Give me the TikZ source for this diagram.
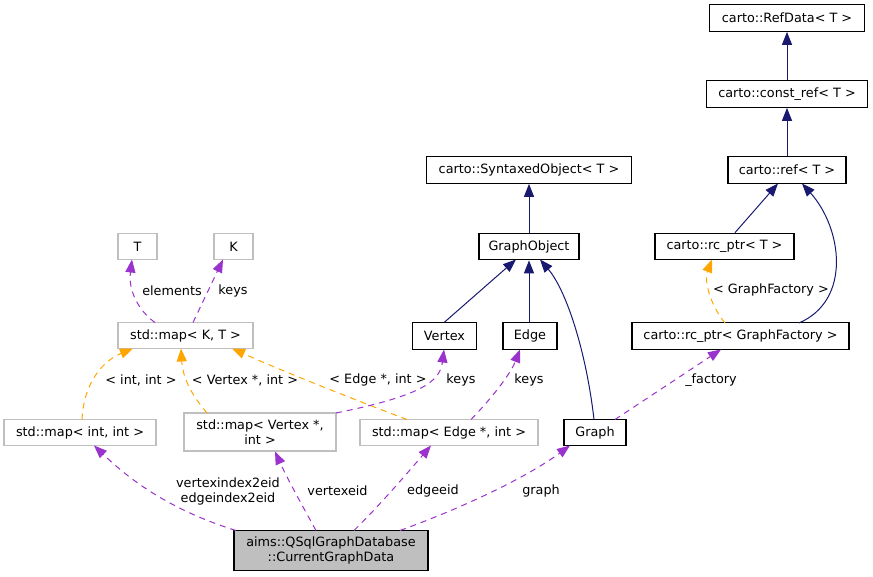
\documentclass[tikz,border=0pt]{standalone}
\usepackage{fontspec}
\setmainfont{DejaVu Sans}
\usetikzlibrary{arrows.meta}
\definecolor{navyc}{HTML}{191970}
\definecolor{orangec}{HTML}{FFA500}
\definecolor{purplec}{HTML}{9A32CD}
\definecolor{grayb}{HTML}{BFBFBF}
\begin{document}
\begin{tikzpicture}[x=1pt,y=-1pt,
  font=\fontsize{12.8}{15}\selectfont,
  box/.style={draw=black,line width=1.2pt,fill=white,minimum height=26.5pt,inner sep=0pt,align=center},
  gbox/.style={draw=grayb,line width=1.2pt,fill=white,minimum height=26.5pt,inner sep=0pt,align=center},
  inh/.style={draw=navyc,line width=1pt,-{Triangle[length=13pt,width=10pt]}},
  tmpl/.style={draw=orangec,line width=1pt,dash pattern=on 6pt off 5pt,-{Triangle[length=13pt,width=10pt]}},
  use/.style={draw=purplec,line width=1pt,dash pattern=on 6pt off 5pt,-{Triangle[length=13pt,width=10pt]}},
  lbl/.style={inner sep=0pt,align=center}]
\useasboundingbox (0,0) rectangle (873,577);
% nodes
\node[box,minimum width=155pt] (refdata) at (787,18) {carto::RefData< T >};
\node[box,minimum width=161pt] (constref) at (787,94) {carto::const\_ref< T >};
\node[box,minimum width=118pt] (ref) at (787,170) {carto::ref< T >};
\node[box,minimum width=205pt] (syntaxed) at (529,170) {carto::SyntaxedObject< T >};
\node[box,minimum width=100pt] (graphobject) at (529,246.5) {GraphObject};
\node[box,minimum width=139pt] (rcptrT) at (724.5,246.5) {carto::rc\_ptr< T >};
\node[gbox,minimum width=39pt] (T) at (137.5,246.5) {T};
\node[gbox,minimum width=39pt] (K) at (233.5,246.5) {K};
\node[gbox,minimum width=135pt] (mapKT) at (185.5,335.5) {std::map< K, T >};
\node[box,minimum width=64pt] (vertex) at (444.5,336) {Vertex};
\node[box,minimum width=54pt] (edge) at (530,336) {Edge};
\node[box,minimum width=217pt] (rcptrGF) at (740.5,336) {carto::rc\_ptr< GraphFactory >};
\node[gbox,minimum width=152pt] (mapint) at (80,432.5) {std::map< int, int >};
\node[gbox,minimum width=152pt,minimum height=38pt] (mapvertex) at (260,432) {std::map< Vertex *,\\int >};
\node[gbox,minimum width=178pt] (mapedge) at (449,432.5) {std::map< Edge *, int >};
\node[box,minimum width=62pt] (graph) at (595,432.5) {Graph};
\node[box,fill=grayb,minimum width=194pt,minimum height=40pt] (aims) at (331,550.5) {aims::QSqlGraphDatabase\\::CurrentGraphData};
% inheritance
\draw[inh] (constref.north) -- (refdata.south);
\draw[inh] (ref.north) -- (constref.south);
\draw[inh] (rcptrT.north -| 735,0) -- (778,183.5);
\draw[inh] (graphobject.north) -- (syntaxed.south);
\draw[inh] (799,323) .. controls (852,300) and (842,228) .. (802,183.5);
\draw[inh] (vertex.north) -- (516,259.5);
\draw[inh] (edge.north -| graphobject.south) -- (graphobject.south);
\draw[inh] (594,419.5) .. controls (586,350) and (566,290) .. (540,259.5);
% template instances
\draw[tmpl] (725,323) .. controls (710,305) and (704,280) .. (712,259.5);
\draw[tmpl] (82,419.5) .. controls (84,380) and (105,360) .. (133,348.5);
\draw[tmpl] (207,413) .. controls (196,400) and (183,382) .. (181,348.5);
\draw[tmpl] (407,419.5) .. controls (350,398) and (280,370) .. (232,348.5);
% usage
\draw[use] (155,322.5) .. controls (140,312) and (128,292) .. (132,259.5);
\draw[use] (193,322.5) -- (223,259.5);
\draw[use] (336,413) .. controls (420,396) and (440,382) .. (444,349.5);
\draw[use] (471,419.5) .. controls (490,400) and (510,375) .. (520,349.5);
\draw[use] (615,419.5) -- (721,349.5);
\draw[use] (236,530.5) .. controls (170,510) and (130,480) .. (94,445.5);
\draw[use] (316,530.5) .. controls (302,505) and (288,480) .. (275,451.5);
\draw[use] (354,530.5) .. controls (380,505) and (410,470) .. (431,445.5);
\draw[use] (400,530.5) .. controls (470,505) and (530,475) .. (570,445.5);
% labels
\node[lbl] (lelements) at (172,291) {elements};
\node[lbl] (lkeysK) at (233,291) {keys};
\node[lbl] (lintint) at (141,380) {< int, int >};
\node[lbl] (lvertexint) at (245,380) {< Vertex *, int >};
\node[lbl] (ledgeint) at (378,380) {< Edge *, int >};
\node[lbl] (lkeysV) at (461,380) {keys};
\node[lbl] (lkeysE) at (529,380) {keys};
\node[lbl] (lfactory) at (711,380) {\_factory};
\node[lbl] (lgf) at (771,290) {< GraphFactory >};
\node[lbl] (lidx) at (228,491) {vertexindex2eid\\edgeindex2eid};
\node[lbl] (lvid) at (337.5,491) {vertexeid};
\node[lbl] (leid) at (433,491) {edgeeid};
\node[lbl] (lgraph) at (541,491) {graph};
\end{tikzpicture}
\end{document}
